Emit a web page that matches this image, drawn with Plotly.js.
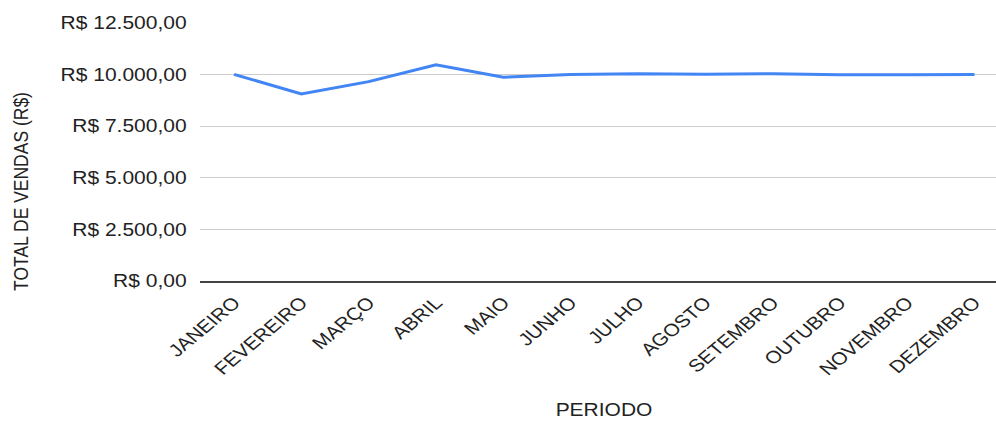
<!DOCTYPE html>
<html>
<head>
<meta charset="utf-8">
<script src="https://cdn.plot.ly/plotly-3.0.1.min.js"></script>
<style>
html,body{margin:0;padding:0;background:#fff;overflow:hidden}
#chart{width:830px;height:421px;transform:scaleX(1.2);transform-origin:0 0}
</style>
</head>
<body>
<div id="chart"></div>
<script>
const months = ["JANEIRO","FEVEREIRO","MARÇO","ABRIL","MAIO","JUNHO","JULHO","AGOSTO","SETEMBRO","OUTUBRO","NOVEMBRO","DEZEMBRO"];
const totalVendas = [10010, 9060, 9660, 10480, 9870, 10000, 10040, 10020, 10040, 9990, 9990, 10010];
const yTickValues = [0, 2500, 5000, 7500, 10000, 12500];
const yTickLabels = ["R$ 0,00","R$ 2.500,00","R$ 5.000,00","R$ 7.500,00","R$ 10.000,00","R$ 12.500,00"];
const xTitle = "PERIODO";
const yTitle = "TOTAL DE VENDAS (R$)";

const font = "Liberation Sans, Arial, sans-serif";
const W = 830, L = 167;
Plotly.newPlot("chart", [{
  x: months,
  y: totalVendas,
  type: "scatter",
  mode: "lines",
  line: {color: "#4285f4", width: 3},
  hoverinfo: "x+y"
}], {
  width: W, height: 421,
  margin: {l: L, r: 0, t: 23, b: 140},
  paper_bgcolor: "#fff", plot_bgcolor: "#fff",
  showlegend: false,
  font: {family: font, color: "#222", size: 17.5},
  xaxis: {
    type: "category",
    range: [-0.5, 11.32],
    tickangle: -45,
    tickfont: {size: 17.5, color: "#222"},
    showgrid: false,
    showline: true, linecolor: "#444", linewidth: 1.5,
    ticks: "outside", ticklen: 3, tickcolor: "rgba(0,0,0,0)",
    zeroline: false
  },
  yaxis: {
    range: [0, 12500],
    tickvals: yTickValues,
    ticktext: yTickLabels,
    tickfont: {size: 17.5, color: "#222"},
    showgrid: true, gridcolor: "#cccccc", gridwidth: 1,
    zeroline: false, showline: false,
    ticks: "outside", ticklen: 7, tickcolor: "rgba(0,0,0,0)"
  },
  annotations: [{
    text: yTitle,
    xref: "paper", yref: "paper",
    x: (17 - L) / (W - L), y: (281 - 192) / (281 - 23),
    xanchor: "center", yanchor: "middle",
    textangle: -90, showarrow: false,
    font: {size: 17.5, color: "#222", family: font}
  }, {
    text: xTitle,
    xref: "paper", yref: "paper",
    x: (503 - L) / (W - L), y: (281 - 410) / (281 - 23),
    xanchor: "center", yanchor: "middle",
    showarrow: false,
    font: {size: 17.5, color: "#222", family: font}
  }]
}, {displayModeBar: false});
</script>
</body>
</html>
